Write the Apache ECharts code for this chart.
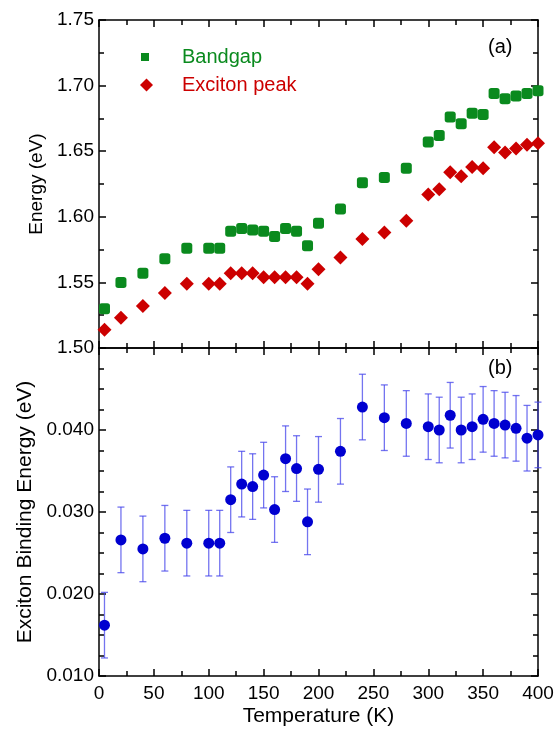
<!DOCTYPE html>
<html>
<head>
<meta charset="utf-8">
<script src="https://cdn.jsdelivr.net/npm/echarts@6/dist/echarts.min.js"></script>
<style>
  html, body { margin: 0; padding: 0; background: #fff; }
  #main { width: 558px; height: 729px; }
</style>
</head>
<body>
<div id="main"></div>
<script>
// temperatures (K)
const temps = [5, 20, 40, 60, 80, 100, 110, 120, 130, 140, 150, 160, 170, 180, 190, 200,
  220, 240, 260, 280, 300, 310, 320, 330, 340, 350, 360, 370, 380, 390, 400];
// panel (a)
const bandgap = [1.530, 1.550, 1.557, 1.568, 1.576, 1.576, 1.576, 1.589, 1.591, 1.590, 1.589, 1.585, 1.591, 1.589, 1.578, 1.595,
  1.606, 1.626, 1.630, 1.637, 1.657, 1.662, 1.676, 1.671, 1.679, 1.678, 1.694, 1.690, 1.692, 1.694, 1.696];
const excitonPeak = [1.514, 1.523, 1.532, 1.542, 1.549, 1.549, 1.549, 1.557, 1.557, 1.557, 1.554, 1.554, 1.554, 1.554, 1.549, 1.560,
  1.569, 1.583, 1.588, 1.597, 1.617, 1.621, 1.634, 1.631, 1.638, 1.637, 1.653, 1.649, 1.652, 1.655, 1.656];
// panel (b)
const bindingEnergy = [0.0162, 0.0266, 0.0255, 0.0268, 0.0262, 0.0262, 0.0262, 0.0315, 0.0334, 0.0331, 0.0345, 0.0303, 0.0365, 0.0353, 0.0288, 0.0352,
  0.0374, 0.0428, 0.0415, 0.0408, 0.0404, 0.0400, 0.0418, 0.0400, 0.0404, 0.0413, 0.0408, 0.0406, 0.0402, 0.0390, 0.0394];
const bindingErr = [0.0040, 0.0040, 0.0040, 0.0040, 0.0040, 0.0040, 0.0040, 0.0040, 0.0040, 0.0040, 0.0040, 0.0040, 0.0040, 0.0040, 0.0040, 0.0040,
  0.0040, 0.0040, 0.0040, 0.0040, 0.0040, 0.0040, 0.0040, 0.0040, 0.0040, 0.0040, 0.0040, 0.0040, 0.0040, 0.0040, 0.0040];

const FONT = 'Liberation Sans';
const GREEN = '#0a8a1e';
const RED = '#cc0000';
const BLUE = '#0000d0';

let chart = echarts.init(document.getElementById('main'));

function xAx(gridIndex, pos, showLabel) {
  return {
    type: 'value', gridIndex: gridIndex, position: pos,
    min: 0, max: 400, interval: 50,
    axisLine: { show: true, onZero: false, lineStyle: { color: '#000', width: 1.5 } },
    axisTick: { show: true, inside: true, length: 7, lineStyle: { color: '#000', width: 1.5 } },
    minorTick: { show: true, splitNumber: 2, length: 5, lineStyle: { color: '#000', width: 1.5 } },
    splitLine: { show: false },
    axisLabel: { show: showLabel, color: '#000', fontFamily: FONT, fontSize: 19, margin: 8 },
    name: showLabel ? 'Temperature (K)' : '',
    nameLocation: 'middle', nameGap: 30,
    nameTextStyle: { color: '#000', fontFamily: FONT, fontSize: 21 }
  };
}

function yAx(gridIndex, pos, opts) {
  return Object.assign({
    type: 'value', gridIndex: gridIndex, position: pos,
    axisLine: { show: true, onZero: false, lineStyle: { color: '#000', width: 1.5 } },
    axisTick: { show: true, inside: true, length: 7, lineStyle: { color: '#000', width: 1.5 } },
    splitLine: { show: false },
    nameLocation: 'middle'
  }, opts);
}

const errData = temps.map((t, i) => [t, bindingEnergy[i] - bindingErr[i], bindingEnergy[i] + bindingErr[i]]);

let option = {
  animation: false,
  backgroundColor: '#fff',
  grid: [
    { left: 99, right: 20, top: 20, height: 328 },
    { left: 99, right: 20, top: 348, height: 328 }
  ],
  xAxis: [
    xAx(0, 'bottom', false),
    xAx(0, 'top', false),
    xAx(1, 'bottom', true),
    xAx(1, 'top', false)
  ],
  yAxis: [
    yAx(0, 'left', {
      min: 1.50, max: 1.75, interval: 0.05,
      minorTick: { show: true, splitNumber: 2, length: 5, lineStyle: { color: '#000', width: 1.5 } },
      axisLabel: { color: '#000', fontFamily: FONT, fontSize: 19, margin: 5, formatter: v => v.toFixed(2) },
      name: 'Energy (eV)', nameGap: 52,
      nameTextStyle: { color: '#000', fontFamily: FONT, fontSize: 19 }
    }),
    yAx(0, 'right', {
      min: 1.50, max: 1.75, interval: 0.05,
      minorTick: { show: true, splitNumber: 2, length: 5, lineStyle: { color: '#000', width: 1.5 } },
      axisLabel: { show: false }
    }),
    yAx(1, 'left', {
      min: 0.010, max: 0.050, interval: 0.010,
      minorTick: { show: true, splitNumber: 4, length: 5, lineStyle: { color: '#000', width: 1.5 } },
      axisLabel: { color: '#000', fontFamily: FONT, fontSize: 19, margin: 5,
        formatter: v => (v > 0.045 ? '' : v.toFixed(3)) },
      name: 'Exciton Binding Energy (eV)', nameGap: 62,
      nameTextStyle: { color: '#000', fontFamily: FONT, fontSize: 21 }
    }),
    yAx(1, 'right', {
      min: 0.010, max: 0.050, interval: 0.010,
      minorTick: { show: true, splitNumber: 4, length: 5, lineStyle: { color: '#000', width: 1.5 } },
      axisLabel: { show: false }
    })
  ],
  legend: [
    {
      left: 136, top: 42, itemWidth: 8, itemHeight: 8,
      textStyle: { fontFamily: FONT, fontSize: 20, padding: [0, 0, 0, 28] },
      data: [{ name: 'Bandgap', icon: 'rect', textStyle: { color: GREEN } }]
    },
    {
      left: 135, top: 70, itemWidth: 13, itemHeight: 13,
      textStyle: { fontFamily: FONT, fontSize: 20, padding: [0, 0, 0, 24] },
      data: [{ name: 'Exciton peak', icon: 'diamond', textStyle: { color: RED } }]
    }
  ],
  graphic: [
    { type: 'text', left: 488, top: 37, style: { text: '(a)', font: '20px "Liberation Sans"', fill: '#000' } },
    { type: 'text', left: 488, top: 358, style: { text: '(b)', font: '20px "Liberation Sans"', fill: '#000' } }
  ],
  series: [
    {
      name: 'Bandgap', type: 'scatter', xAxisIndex: 0, yAxisIndex: 0,
      symbol: 'roundRect', symbolSize: 11,
      itemStyle: { color: GREEN, opacity: 1 },
      data: temps.map((t, i) => [t, bandgap[i]])
    },
    {
      name: 'Exciton peak', type: 'scatter', xAxisIndex: 0, yAxisIndex: 0,
      symbol: 'diamond', symbolSize: 14,
      itemStyle: { color: RED, opacity: 1 },
      data: temps.map((t, i) => [t, excitonPeak[i]])
    },
    {
      name: 'err', type: 'custom', xAxisIndex: 2, yAxisIndex: 2,
      renderItem: function (params, api) {
        const lo = api.coord([api.value(0), api.value(1)]);
        const hi = api.coord([api.value(0), api.value(2)]);
        const cap = 3.5;
        const st = { stroke: 'rgba(70,70,235,0.75)', lineWidth: 1.3 };
        return {
          type: 'group',
          children: [
            { type: 'line', shape: { x1: lo[0], y1: lo[1], x2: hi[0], y2: hi[1] }, style: st },
            { type: 'line', shape: { x1: lo[0] - cap, y1: lo[1], x2: lo[0] + cap, y2: lo[1] }, style: st },
            { type: 'line', shape: { x1: hi[0] - cap, y1: hi[1], x2: hi[0] + cap, y2: hi[1] }, style: st }
          ]
        };
      },
      encode: { x: 0, y: [1, 2] },
      data: errData,
      z: 1
    },
    {
      name: 'Binding', type: 'scatter', xAxisIndex: 2, yAxisIndex: 2,
      symbol: 'circle', symbolSize: 11,
      itemStyle: { color: BLUE, opacity: 1 },
      data: temps.map((t, i) => [t, bindingEnergy[i]]),
      z: 3
    }
  ]
};
chart.setOption(option);
</script>
</body>
</html>
